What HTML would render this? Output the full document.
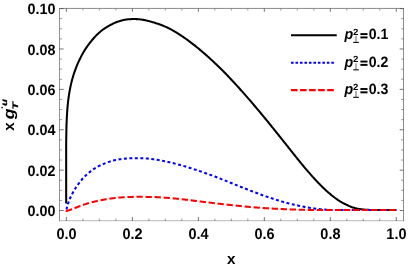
<!DOCTYPE html>
<html><head><meta charset="utf-8"><title>plot</title><style>html,body{margin:0;padding:0;background:#fff}body{width:408px;height:267px;overflow:hidden;font-family:"Liberation Sans",sans-serif}</style></head><body>
<svg width="408" height="267" viewBox="0 0 408 267" style="display:block;text-rendering:geometricPrecision;will-change:transform">
<rect width="408" height="267" fill="#fff"/>
<g fill="none" stroke-linejoin="round">
<polyline points="66.17,203.40 66.17,145.61 66.17,145.28 66.18,144.95 66.18,144.62 66.18,144.29 66.18,143.95 66.19,143.62 66.19,143.28 66.19,142.94 66.20,142.60 66.20,142.26 66.20,141.91 66.21,141.57 66.21,141.22 66.21,140.87 66.22,140.52 66.22,140.16 66.22,139.81 66.23,139.45 66.23,139.09 66.24,138.73 66.24,138.37 66.25,138.01 66.25,137.64 66.26,137.27 66.26,136.90 66.27,136.53 66.27,136.15 66.28,135.78 66.28,135.40 66.29,135.02 66.30,134.64 66.30,134.25 66.31,133.87 66.32,133.48 66.32,133.09 66.33,132.70 66.34,132.30 66.35,131.91 66.36,131.51 66.36,131.11 66.37,130.71 66.38,130.30 66.39,129.90 66.40,129.49 66.41,129.08 66.42,128.66 66.43,128.25 66.44,127.83 66.45,127.41 66.47,126.99 66.48,126.57 66.49,126.14 66.50,125.71 66.52,125.28 66.53,124.85 66.55,124.41 66.56,123.97 66.58,123.53 66.59,123.09 66.61,122.65 66.62,122.20 66.64,121.75 66.66,121.30 66.68,120.84 66.70,120.39 66.72,119.93 66.74,119.46 66.76,119.00 66.78,118.53 66.80,118.06 66.83,117.59 66.85,117.11 66.88,116.64 66.90,116.16 66.93,115.67 66.96,115.19 66.99,114.70 67.01,114.21 67.05,113.71 67.08,113.22 67.11,112.72 67.14,112.22 67.18,111.71 67.21,111.20 67.25,110.69 67.29,110.18 67.33,109.66 67.37,109.14 67.41,108.62 67.45,108.09 67.50,107.56 67.54,107.03 67.59,106.49 67.64,105.95 67.69,105.41 67.75,104.86 67.80,104.32 67.86,103.76 67.91,103.21 67.97,102.65 68.04,102.09 68.10,101.52 68.17,100.95 68.23,100.38 68.30,99.80 68.38,99.22 68.45,98.63 68.53,98.05 68.61,97.45 68.69,96.86 68.78,96.26 68.87,95.66 68.96,95.05 69.05,94.44 69.15,93.82 69.25,93.20 69.35,92.58 69.46,91.95 69.57,91.31 70.24,87.75 70.91,84.62 71.58,81.83 72.25,79.29 72.91,76.95 73.57,74.79 74.23,72.76 74.89,70.86 75.55,69.06 76.21,67.35 76.87,65.72 77.53,64.15 78.18,62.64 78.84,61.19 79.50,59.79 80.15,58.44 80.81,57.13 81.46,55.87 82.12,54.64 82.77,53.46 83.43,52.32 84.08,51.22 84.73,50.15 85.39,49.12 86.04,48.12 86.70,47.15 87.35,46.21 88.01,45.29 88.66,44.39 89.31,43.52 89.97,42.66 90.62,41.83 91.28,41.03 91.93,40.24 92.58,39.47 93.24,38.72 93.89,37.99 94.55,37.27 95.20,36.58 95.85,35.90 96.51,35.23 97.16,34.59 97.81,33.96 98.47,33.34 99.12,32.74 99.78,32.16 100.43,31.59 101.08,31.04 101.74,30.52 102.39,30.02 103.05,29.54 103.70,29.07 104.35,28.62 105.01,28.19 105.66,27.77 106.31,27.36 106.97,26.96 107.62,26.57 108.28,26.18 108.93,25.80 109.58,25.43 110.24,25.08 110.89,24.73 111.55,24.39 112.20,24.06 112.85,23.74 113.51,23.44 114.16,23.14 114.81,22.86 115.47,22.58 116.12,22.32 116.78,22.07 117.43,21.83 118.08,21.59 118.74,21.37 119.39,21.16 120.05,20.96 120.70,20.77 121.35,20.58 122.01,20.41 122.66,20.25 123.31,20.10 123.97,19.96 124.62,19.82 125.28,19.70 125.93,19.60 126.58,19.50 127.24,19.42 127.89,19.34 128.55,19.28 129.20,19.23 129.85,19.19 130.51,19.16 131.16,19.13 131.81,19.10 132.47,19.09 133.12,19.07 133.78,19.06 134.43,19.06 135.08,19.07 135.74,19.08 136.39,19.11 137.05,19.13 137.70,19.17 138.35,19.22 139.01,19.27 139.66,19.33 140.31,19.40 140.97,19.47 141.62,19.56 142.28,19.65 142.93,19.76 143.58,19.87 144.24,19.99 144.89,20.13 145.55,20.27 146.20,20.42 146.85,20.58 147.51,20.75 148.16,20.92 148.81,21.09 149.47,21.27 150.12,21.45 150.78,21.64 151.43,21.82 152.08,22.01 152.74,22.20 153.39,22.39 154.05,22.59 154.70,22.78 155.35,22.99 156.01,23.19 156.66,23.40 157.31,23.62 157.97,23.84 158.62,24.07 159.28,24.30 159.93,24.54 160.58,24.79 161.24,25.04 161.89,25.29 162.55,25.55 163.20,25.81 163.85,26.07 164.51,26.34 165.16,26.61 165.81,26.89 166.47,27.18 167.12,27.48 167.78,27.78 168.43,28.10 169.08,28.42 169.74,28.76 170.39,29.10 171.05,29.45 171.70,29.81 172.35,30.18 173.01,30.55 173.66,30.92 174.31,31.31 174.97,31.70 175.62,32.09 176.28,32.48 176.93,32.89 177.58,33.29 178.24,33.70 178.89,34.12 179.55,34.54 180.20,34.96 180.85,35.39 181.51,35.82 182.16,36.26 182.82,36.70 183.47,37.15 184.12,37.60 184.78,38.05 185.43,38.51 186.08,38.98 186.74,39.45 187.39,39.92 188.05,40.40 188.70,40.88 189.35,41.36 190.01,41.85 190.66,42.34 191.32,42.84 191.97,43.34 192.62,43.85 193.28,44.35 193.93,44.87 194.58,45.38 195.24,45.90 195.89,46.43 196.55,46.95 197.20,47.48 197.85,48.02 198.51,48.55 199.16,49.10 199.82,49.64 200.47,50.19 201.12,50.74 201.78,51.29 202.43,51.85 203.08,52.41 203.74,52.98 204.39,53.55 205.05,54.12 205.70,54.69 206.35,55.27 207.01,55.85 207.66,56.43 208.32,57.02 208.97,57.61 209.62,58.21 210.28,58.80 210.93,59.40 211.58,60.00 212.24,60.61 212.89,61.22 213.55,61.83 214.20,62.44 214.85,63.05 215.51,63.67 216.16,64.28 216.82,64.90 217.47,65.52 218.12,66.15 218.78,66.78 219.43,67.41 220.08,68.04 220.74,68.68 221.39,69.32 222.05,69.97 222.70,70.62 223.35,71.28 224.01,71.95 224.66,72.61 225.32,73.29 225.97,73.97 226.62,74.65 227.28,75.33 227.93,76.01 228.58,76.70 229.24,77.39 229.89,78.08 230.55,78.78 231.20,79.48 231.85,80.18 232.51,80.88 233.16,81.58 233.82,82.29 234.47,83.00 235.12,83.71 235.78,84.42 236.43,85.14 237.08,85.85 237.74,86.57 238.39,87.29 239.05,88.02 239.70,88.74 240.35,89.47 241.01,90.20 241.66,90.93 242.32,91.67 242.97,92.40 243.62,93.14 244.28,93.88 244.93,94.62 245.58,95.37 246.24,96.11 246.89,96.86 247.55,97.61 248.20,98.36 248.85,99.12 249.51,99.87 250.16,100.63 250.82,101.39 251.47,102.15 252.12,102.91 252.78,103.68 253.43,104.45 254.08,105.21 254.74,105.98 255.39,106.75 256.05,107.53 256.70,108.30 257.35,109.08 258.01,109.86 258.66,110.64 259.32,111.42 259.97,112.20 260.62,112.99 261.28,113.77 261.93,114.56 262.58,115.35 263.24,116.14 263.89,116.93 264.55,117.73 265.20,118.52 265.85,119.32 266.51,120.12 267.16,120.92 267.82,121.72 268.47,122.52 269.12,123.32 269.78,124.13 270.43,124.93 271.08,125.74 271.74,126.55 272.39,127.35 273.05,128.16 273.70,128.98 274.35,129.79 275.01,130.60 275.66,131.42 276.32,132.23 276.97,133.05 277.62,133.86 278.28,134.68 278.93,135.50 279.58,136.32 280.24,137.14 280.89,137.96 281.55,138.78 282.20,139.60 282.85,140.42 283.51,141.24 284.16,142.07 284.82,142.89 285.47,143.71 286.12,144.54 286.78,145.36 287.43,146.19 288.08,147.01 288.74,147.83 289.39,148.66 290.05,149.48 290.70,150.30 291.35,151.13 292.01,151.95 292.66,152.77 293.32,153.59 293.97,154.42 294.62,155.24 295.28,156.06 295.93,156.87 296.58,157.69 297.24,158.51 297.89,159.32 298.55,160.14 299.20,160.95 299.85,161.76 300.51,162.57 301.16,163.38 301.82,164.17 302.47,164.97 303.12,165.76 303.78,166.54 304.43,167.32 305.08,168.10 305.74,168.87 306.39,169.64 307.05,170.40 307.70,171.16 308.35,171.91 309.01,172.67 309.66,173.41 310.32,174.15 310.97,174.89 311.62,175.63 312.28,176.36 312.93,177.08 313.59,177.80 314.24,178.52 314.89,179.24 315.55,179.95 316.20,180.65 316.85,181.34 317.51,182.03 318.16,182.71 318.82,183.38 319.47,184.05 320.12,184.71 320.78,185.37 321.43,186.01 322.09,186.66 322.74,187.29 323.39,187.92 324.05,188.55 324.70,189.17 325.35,189.78 326.01,190.39 326.66,190.99 327.32,191.57 327.97,192.15 328.62,192.72 329.28,193.29 329.93,193.84 330.59,194.39 331.24,194.92 331.89,195.46 332.55,195.98 333.20,196.49 333.85,197.00 334.51,197.50 335.16,198.00 335.82,198.48 336.47,198.96 337.12,199.42 337.78,199.87 338.43,200.31 339.09,200.74 339.74,201.15 340.39,201.56 341.05,201.95 341.70,202.33 342.35,202.69 343.01,203.05 343.66,203.39 344.32,203.72 344.97,204.03 345.62,204.34 346.28,204.65 346.93,204.96 347.59,205.26 348.24,205.56 348.89,205.86 349.55,206.14 350.20,206.42 350.85,206.69 351.51,206.94 352.16,207.19 352.82,207.42 353.47,207.64 354.12,207.84 354.78,208.03 355.43,208.20 356.09,208.35 356.74,208.50 357.39,208.64 358.05,208.77 358.70,208.90 359.35,209.01 360.01,209.11 360.66,209.21 361.32,209.30 361.97,209.38 362.62,209.46 363.28,209.52 363.93,209.58 364.59,209.64 365.24,209.69 365.89,209.74 366.55,209.78 367.20,209.82 367.85,209.86 368.51,209.89 369.16,209.92 369.82,209.95 370.47,209.97 371.12,209.98 371.78,209.99 372.43,209.99 373.09,210.00 373.74,210.00 374.39,210.00 375.05,210.00 375.70,210.00 376.35,210.00 377.01,210.00 377.66,210.00 378.32,210.00 378.97,210.00 379.62,210.00 380.28,210.00 380.93,210.00 381.59,210.00 382.24,210.00 382.89,210.00 383.55,210.00 384.20,210.00 384.85,210.00 385.51,210.00 386.16,210.00 386.82,210.00 387.47,210.00 388.12,210.00 388.78,210.00 389.43,210.00 390.09,210.00 390.74,210.00 391.39,210.00 392.05,210.00 392.70,210.00 393.35,210.00 394.01,210.00 394.66,210.00 395.32,210.00 395.97,210.00 396.30,210.00" stroke="#000" stroke-width="2.05"/>
<polyline points="66.73,209.60 66.73,208.33 66.74,208.30 66.74,208.27 66.75,208.24 66.76,208.21 66.76,208.18 66.77,208.15 66.78,208.12 66.79,208.08 66.79,208.05 66.80,208.01 66.81,207.98 66.82,207.94 66.82,207.91 66.83,207.87 66.84,207.84 66.85,207.80 66.86,207.76 66.87,207.72 66.88,207.68 66.89,207.64 66.90,207.60 66.90,207.56 66.91,207.52 66.92,207.48 66.94,207.44 66.95,207.40 66.96,207.35 66.97,207.31 66.98,207.26 66.99,207.22 67.00,207.17 67.01,207.13 67.02,207.08 67.04,207.03 67.05,206.98 67.06,206.93 67.08,206.88 67.09,206.83 67.10,206.78 67.12,206.73 67.13,206.68 67.14,206.62 67.16,206.57 67.17,206.51 67.19,206.46 67.20,206.40 67.22,206.34 67.24,206.28 67.25,206.22 67.27,206.16 67.29,206.10 67.30,206.04 67.32,205.98 67.34,205.92 67.36,205.85 67.37,205.79 67.39,205.72 67.41,205.65 67.43,205.58 67.45,205.52 67.47,205.45 67.49,205.37 67.52,205.30 67.54,205.23 67.56,205.16 67.58,205.08 67.61,205.00 67.63,204.93 67.65,204.85 67.68,204.77 67.70,204.69 67.73,204.61 67.75,204.53 67.78,204.44 67.81,204.36 67.84,204.27 67.86,204.18 67.89,204.10 67.92,204.01 67.95,203.92 67.98,203.82 68.01,203.73 68.04,203.64 68.08,203.54 68.11,203.44 68.14,203.34 68.18,203.24 68.21,203.14 68.25,203.04 68.28,202.94 68.32,202.83 68.36,202.72 68.39,202.62 68.43,202.51 68.47,202.40 68.51,202.28 68.56,202.17 68.60,202.05 68.64,201.94 68.68,201.82 68.73,201.70 68.77,201.58 68.82,201.45 68.87,201.33 68.92,201.20 68.97,201.07 69.02,200.94 69.07,200.81 69.12,200.68 69.17,200.54 69.23,200.40 69.28,200.26 69.34,200.12 69.39,199.98 69.45,199.84 69.51,199.69 69.57,199.54 69.64,199.39 69.70,199.24 70.35,197.72 71.01,196.29 71.66,194.94 72.31,193.65 72.97,192.43 73.62,191.25 74.28,190.13 74.93,189.05 75.58,188.01 76.24,187.02 76.89,186.07 77.55,185.15 78.20,184.25 78.85,183.37 79.51,182.49 80.16,181.65 80.81,180.83 81.47,180.04 82.12,179.28 82.78,178.54 83.43,177.83 84.08,177.14 84.74,176.47 85.39,175.82 86.05,175.20 86.70,174.59 87.35,174.00 88.01,173.43 88.66,172.88 89.31,172.34 89.97,171.82 90.62,171.31 91.28,170.81 91.93,170.33 92.58,169.86 93.24,169.41 93.89,168.97 94.55,168.54 95.20,168.13 95.85,167.73 96.51,167.34 97.16,166.97 97.81,166.61 98.47,166.26 99.12,165.93 99.78,165.60 100.43,165.29 101.08,164.98 101.74,164.69 102.39,164.40 103.05,164.12 103.70,163.85 104.35,163.59 105.01,163.34 105.66,163.08 106.31,162.83 106.97,162.59 107.62,162.34 108.28,162.10 108.93,161.87 109.58,161.64 110.24,161.42 110.89,161.21 111.55,161.01 112.20,160.81 112.85,160.63 113.51,160.47 114.16,160.31 114.81,160.17 115.47,160.03 116.12,159.90 116.78,159.78 117.43,159.66 118.08,159.55 118.74,159.44 119.39,159.34 120.05,159.25 120.70,159.16 121.35,159.07 122.01,158.99 122.66,158.91 123.31,158.84 123.97,158.77 124.62,158.70 125.28,158.63 125.93,158.57 126.58,158.52 127.24,158.46 127.89,158.41 128.55,158.37 129.20,158.33 129.85,158.29 130.51,158.26 131.16,158.24 131.81,158.21 132.47,158.19 133.12,158.18 133.78,158.17 134.43,158.16 135.08,158.16 135.74,158.16 136.39,158.16 137.05,158.16 137.70,158.17 138.35,158.19 139.01,158.20 139.66,158.22 140.31,158.24 140.97,158.26 141.62,158.28 142.28,158.30 142.93,158.32 143.58,158.35 144.24,158.38 144.89,158.41 145.55,158.44 146.20,158.48 146.85,158.53 147.51,158.58 148.16,158.63 148.81,158.69 149.47,158.76 150.12,158.84 150.78,158.92 151.43,159.00 152.08,159.08 152.74,159.17 153.39,159.26 154.05,159.35 154.70,159.45 155.35,159.55 156.01,159.65 156.66,159.75 157.31,159.85 157.97,159.96 158.62,160.07 159.28,160.19 159.93,160.30 160.58,160.42 161.24,160.54 161.89,160.66 162.55,160.79 163.20,160.92 163.85,161.05 164.51,161.18 165.16,161.31 165.81,161.45 166.47,161.59 167.12,161.73 167.78,161.88 168.43,162.03 169.08,162.18 169.74,162.33 170.39,162.48 171.05,162.64 171.70,162.80 172.35,162.96 173.01,163.12 173.66,163.28 174.31,163.45 174.97,163.62 175.62,163.79 176.28,163.96 176.93,164.13 177.58,164.31 178.24,164.48 178.89,164.66 179.55,164.84 180.20,165.02 180.85,165.21 181.51,165.39 182.16,165.58 182.82,165.76 183.47,165.95 184.12,166.14 184.78,166.33 185.43,166.53 186.08,166.72 186.74,166.92 187.39,167.12 188.05,167.32 188.70,167.52 189.35,167.73 190.01,167.93 190.66,168.14 191.32,168.34 191.97,168.55 192.62,168.76 193.28,168.97 193.93,169.19 194.58,169.40 195.24,169.61 195.89,169.83 196.55,170.05 197.20,170.27 197.85,170.48 198.51,170.70 199.16,170.92 199.82,171.15 200.47,171.37 201.12,171.59 201.78,171.82 202.43,172.04 203.08,172.27 203.74,172.50 204.39,172.73 205.05,172.96 205.70,173.19 206.35,173.43 207.01,173.66 207.66,173.90 208.32,174.13 208.97,174.37 209.62,174.61 210.28,174.85 210.93,175.09 211.58,175.33 212.24,175.58 212.89,175.82 213.55,176.07 214.20,176.31 214.85,176.56 215.51,176.81 216.16,177.06 216.82,177.31 217.47,177.56 218.12,177.81 218.78,178.07 219.43,178.32 220.08,178.57 220.74,178.83 221.39,179.09 222.05,179.34 222.70,179.60 223.35,179.86 224.01,180.12 224.66,180.38 225.32,180.64 225.97,180.90 226.62,181.16 227.28,181.42 227.93,181.68 228.58,181.95 229.24,182.21 229.89,182.47 230.55,182.74 231.20,183.00 231.85,183.27 232.51,183.53 233.16,183.79 233.82,184.06 234.47,184.32 235.12,184.58 235.78,184.85 236.43,185.11 237.08,185.37 237.74,185.63 238.39,185.90 239.05,186.16 239.70,186.42 240.35,186.68 241.01,186.94 241.66,187.21 242.32,187.47 242.97,187.73 243.62,187.99 244.28,188.25 244.93,188.51 245.58,188.77 246.24,189.03 246.89,189.29 247.55,189.55 248.20,189.81 248.85,190.06 249.51,190.32 250.16,190.57 250.82,190.83 251.47,191.08 252.12,191.33 252.78,191.59 253.43,191.84 254.08,192.09 254.74,192.34 255.39,192.58 256.05,192.83 256.70,193.08 257.35,193.32 258.01,193.57 258.66,193.81 259.32,194.05 259.97,194.29 260.62,194.53 261.28,194.77 261.93,195.01 262.58,195.24 263.24,195.47 263.89,195.70 264.55,195.93 265.20,196.15 265.85,196.38 266.51,196.60 267.16,196.82 267.82,197.04 268.47,197.26 269.12,197.47 269.78,197.69 270.43,197.90 271.08,198.12 271.74,198.33 272.39,198.54 273.05,198.75 273.70,198.96 274.35,199.17 275.01,199.38 275.66,199.59 276.32,199.80 276.97,200.01 277.62,200.22 278.28,200.42 278.93,200.63 279.58,200.83 280.24,201.03 280.89,201.22 281.55,201.42 282.20,201.61 282.85,201.80 283.51,201.99 284.16,202.17 284.82,202.35 285.47,202.53 286.12,202.71 286.78,202.89 287.43,203.06 288.08,203.23 288.74,203.40 289.39,203.56 290.05,203.73 290.70,203.89 291.35,204.05 292.01,204.20 292.66,204.36 293.32,204.51 293.97,204.65 294.62,204.80 295.28,204.94 295.93,205.08 296.58,205.23 297.24,205.37 297.89,205.51 298.55,205.65 299.20,205.79 299.85,205.93 300.51,206.07 301.16,206.21 301.82,206.35 302.47,206.48 303.12,206.62 303.78,206.75 304.43,206.88 305.08,207.00 305.74,207.13 306.39,207.25 307.05,207.37 307.70,207.49 308.35,207.60 309.01,207.71 309.66,207.82 310.32,207.92 310.97,208.02 311.62,208.12 312.28,208.21 312.93,208.30 313.59,208.39 314.24,208.48 314.89,208.57 315.55,208.65 316.20,208.73 316.85,208.81 317.51,208.89 318.16,208.97 318.82,209.04 319.47,209.11 320.12,209.18 320.78,209.25 321.43,209.31 322.09,209.37 322.74,209.43 323.39,209.49 324.05,209.54 324.70,209.59 325.35,209.64 326.01,209.68 326.66,209.73 327.32,209.76 327.97,209.80 328.62,209.83 329.28,209.86 329.93,209.89 330.59,209.91 331.24,209.94 331.89,209.96 332.55,209.99 333.20,210.00 333.85,210.00 334.51,210.00 335.16,210.00 335.82,210.00 336.47,210.00 337.12,210.00 337.78,210.00 338.43,210.00 339.09,210.00 339.74,210.00 340.39,210.00 341.05,210.00 341.70,210.00 342.35,210.00 343.01,210.00 343.66,210.00 344.32,210.00 344.97,210.00 345.62,210.00 346.28,210.00 346.93,210.00 347.59,210.00 348.24,210.00 348.89,210.00 349.55,210.00 350.20,210.00 350.85,210.00 351.51,210.00 352.16,210.00 352.82,210.00 353.47,210.00 354.12,210.00 354.78,210.00 355.43,210.00 356.09,210.00 356.74,210.00 357.39,210.00 358.05,210.00 358.70,210.00 359.35,210.00 360.01,210.00 360.66,210.00 361.32,210.00 361.97,210.00 362.62,210.00 363.28,210.00 363.93,210.00 364.59,210.00 365.24,210.00 365.89,210.00 366.55,210.00 367.20,210.00 367.85,210.00 368.51,210.00 369.16,210.00 369.82,210.00 370.47,210.00 371.12,210.00 371.78,210.00 372.43,210.00 373.09,210.00 373.74,210.00 374.39,210.00 375.05,210.00 375.70,210.00 376.35,210.00 377.01,210.00 377.66,210.00 378.32,210.00 378.97,210.00 379.62,210.00 380.28,210.00 380.93,210.00 381.59,210.00 382.24,210.00 382.89,210.00 383.55,210.00 384.20,210.00 384.85,210.00 385.51,210.00 386.16,210.00 386.82,210.00 387.47,210.00 388.12,210.00 388.78,210.00 389.43,210.00 390.09,210.00 390.74,210.00 391.39,210.00 392.05,210.00 392.70,210.00 393.35,210.00 394.01,210.00 394.66,210.00 395.32,210.00 395.97,210.00 396.30,210.00" stroke="#0000ff" stroke-width="2.05" stroke-dasharray="2.95 2.53"/>
<polyline points="66.43,210.50 66.43,210.91 66.43,210.91 66.44,210.91 66.44,210.91 66.44,210.91 66.44,210.91 66.44,210.91 66.44,210.91 66.44,210.91 66.45,210.91 66.45,210.91 66.45,210.91 66.45,210.91 66.45,210.91 66.46,210.91 66.46,210.91 66.46,210.91 66.46,210.91 66.47,210.91 66.47,210.91 66.47,210.91 66.47,210.91 66.48,210.91 66.48,210.91 66.48,210.91 66.49,210.91 66.49,210.91 66.49,210.91 66.50,210.91 66.50,210.91 66.51,210.91 66.51,210.91 66.51,210.91 66.52,210.91 66.52,210.91 66.53,210.91 66.53,210.91 66.54,210.90 66.54,210.90 66.55,210.90 66.56,210.90 66.56,210.90 66.57,210.90 66.57,210.90 66.58,210.90 66.59,210.90 66.60,210.90 66.60,210.90 66.61,210.89 66.62,210.89 66.63,210.89 66.64,210.89 66.65,210.89 66.66,210.89 66.67,210.89 66.68,210.88 66.69,210.88 66.70,210.88 66.71,210.88 66.72,210.88 66.74,210.88 66.75,210.87 66.76,210.87 66.78,210.87 66.79,210.87 66.81,210.86 66.82,210.86 66.84,210.86 66.86,210.85 66.88,210.85 66.90,210.85 66.91,210.84 66.94,210.84 66.96,210.83 66.98,210.83 67.00,210.82 67.02,210.82 67.05,210.81 67.08,210.81 67.10,210.80 67.13,210.80 67.16,210.79 67.19,210.78 67.22,210.78 67.25,210.77 67.29,210.76 67.32,210.75 67.36,210.74 67.39,210.73 67.43,210.72 67.47,210.71 67.52,210.70 67.56,210.69 67.61,210.68 67.65,210.66 67.70,210.65 67.75,210.64 67.81,210.62 67.86,210.61 67.92,210.59 67.98,210.57 68.04,210.55 68.11,210.53 68.18,210.51 68.25,210.49 68.32,210.47 68.39,210.45 68.47,210.42 68.56,210.39 68.64,210.37 68.73,210.34 68.82,210.31 68.92,210.28 69.02,210.24 69.12,210.21 69.23,210.17 69.34,210.13 69.45,210.09 69.57,210.05 69.70,210.00 70.35,209.76 71.01,209.51 71.66,209.26 72.31,209.00 72.97,208.75 73.62,208.49 74.28,208.23 74.93,207.97 75.58,207.71 76.24,207.45 76.89,207.20 77.55,206.95 78.20,206.69 78.85,206.44 79.51,206.20 80.16,205.96 80.81,205.72 81.47,205.48 82.12,205.25 82.78,205.02 83.43,204.79 84.08,204.57 84.74,204.36 85.39,204.14 86.05,203.94 86.70,203.73 87.35,203.53 88.01,203.33 88.66,203.14 89.31,202.95 89.97,202.77 90.62,202.59 91.28,202.41 91.93,202.24 92.58,202.07 93.24,201.91 93.89,201.75 94.55,201.59 95.20,201.44 95.85,201.29 96.51,201.14 97.16,201.00 97.81,200.85 98.47,200.71 99.12,200.57 99.78,200.44 100.43,200.30 101.08,200.17 101.74,200.04 102.39,199.91 103.05,199.79 103.70,199.66 104.35,199.54 105.01,199.42 105.66,199.31 106.31,199.20 106.97,199.09 107.62,198.98 108.28,198.87 108.93,198.77 109.58,198.67 110.24,198.58 110.89,198.49 111.55,198.40 112.20,198.31 112.85,198.23 113.51,198.16 114.16,198.08 114.81,198.01 115.47,197.94 116.12,197.87 116.78,197.81 117.43,197.74 118.08,197.68 118.74,197.62 119.39,197.57 120.05,197.51 120.70,197.46 121.35,197.41 122.01,197.37 122.66,197.32 123.31,197.28 123.97,197.24 124.62,197.20 125.28,197.16 125.93,197.13 126.58,197.09 127.24,197.06 127.89,197.03 128.55,197.01 129.20,196.98 129.85,196.96 130.51,196.94 131.16,196.92 131.81,196.90 132.47,196.88 133.12,196.87 133.78,196.86 134.43,196.85 135.08,196.84 135.74,196.83 136.39,196.82 137.05,196.82 137.70,196.82 138.35,196.82 139.01,196.82 139.66,196.82 140.31,196.82 140.97,196.82 141.62,196.83 142.28,196.83 142.93,196.84 143.58,196.85 144.24,196.86 144.89,196.87 145.55,196.88 146.20,196.89 146.85,196.90 147.51,196.90 148.16,196.91 148.81,196.93 149.47,196.94 150.12,196.95 150.78,196.96 151.43,196.97 152.08,196.99 152.74,197.01 153.39,197.02 154.05,197.04 154.70,197.06 155.35,197.09 156.01,197.11 156.66,197.14 157.31,197.17 157.97,197.20 158.62,197.24 159.28,197.28 159.93,197.32 160.58,197.36 161.24,197.41 161.89,197.46 162.55,197.50 163.20,197.55 163.85,197.60 164.51,197.65 165.16,197.70 165.81,197.75 166.47,197.80 167.12,197.85 167.78,197.90 168.43,197.96 169.08,198.01 169.74,198.07 170.39,198.12 171.05,198.18 171.70,198.24 172.35,198.29 173.01,198.35 173.66,198.41 174.31,198.47 174.97,198.53 175.62,198.59 176.28,198.65 176.93,198.71 177.58,198.77 178.24,198.84 178.89,198.90 179.55,198.97 180.20,199.03 180.85,199.10 181.51,199.17 182.16,199.25 182.82,199.32 183.47,199.40 184.12,199.47 184.78,199.55 185.43,199.63 186.08,199.71 186.74,199.79 187.39,199.87 188.05,199.95 188.70,200.03 189.35,200.11 190.01,200.20 190.66,200.28 191.32,200.36 191.97,200.45 192.62,200.53 193.28,200.61 193.93,200.70 194.58,200.78 195.24,200.86 195.89,200.95 196.55,201.03 197.20,201.11 197.85,201.19 198.51,201.27 199.16,201.35 199.82,201.43 200.47,201.51 201.12,201.58 201.78,201.66 202.43,201.74 203.08,201.82 203.74,201.90 204.39,201.98 205.05,202.05 205.70,202.13 206.35,202.21 207.01,202.29 207.66,202.37 208.32,202.45 208.97,202.53 209.62,202.60 210.28,202.68 210.93,202.76 211.58,202.84 212.24,202.92 212.89,203.00 213.55,203.07 214.20,203.15 214.85,203.23 215.51,203.31 216.16,203.38 216.82,203.46 217.47,203.54 218.12,203.61 218.78,203.69 219.43,203.77 220.08,203.84 220.74,203.92 221.39,203.99 222.05,204.07 222.70,204.15 223.35,204.22 224.01,204.29 224.66,204.37 225.32,204.44 225.97,204.52 226.62,204.59 227.28,204.66 227.93,204.73 228.58,204.81 229.24,204.88 229.89,204.95 230.55,205.02 231.20,205.09 231.85,205.16 232.51,205.23 233.16,205.30 233.82,205.37 234.47,205.44 235.12,205.51 235.78,205.57 236.43,205.64 237.08,205.71 237.74,205.78 238.39,205.84 239.05,205.91 239.70,205.97 240.35,206.04 241.01,206.10 241.66,206.17 242.32,206.23 242.97,206.30 243.62,206.36 244.28,206.42 244.93,206.48 245.58,206.55 246.24,206.61 246.89,206.67 247.55,206.73 248.20,206.79 248.85,206.85 249.51,206.91 250.16,206.97 250.82,207.02 251.47,207.08 252.12,207.14 252.78,207.19 253.43,207.25 254.08,207.30 254.74,207.36 255.39,207.41 256.05,207.47 256.70,207.52 257.35,207.57 258.01,207.62 258.66,207.68 259.32,207.73 259.97,207.78 260.62,207.83 261.28,207.88 261.93,207.92 262.58,207.97 263.24,208.02 263.89,208.06 264.55,208.11 265.20,208.15 265.85,208.20 266.51,208.24 267.16,208.28 267.82,208.33 268.47,208.37 269.12,208.41 269.78,208.45 270.43,208.49 271.08,208.52 271.74,208.56 272.39,208.60 273.05,208.64 273.70,208.67 274.35,208.71 275.01,208.74 275.66,208.78 276.32,208.81 276.97,208.84 277.62,208.88 278.28,208.91 278.93,208.94 279.58,208.97 280.24,209.00 280.89,209.03 281.55,209.06 282.20,209.09 282.85,209.11 283.51,209.14 284.16,209.17 284.82,209.19 285.47,209.22 286.12,209.24 286.78,209.27 287.43,209.29 288.08,209.32 288.74,209.34 289.39,209.36 290.05,209.39 290.70,209.41 291.35,209.43 292.01,209.45 292.66,209.47 293.32,209.49 293.97,209.51 294.62,209.53 295.28,209.55 295.93,209.57 296.58,209.59 297.24,209.61 297.89,209.63 298.55,209.65 299.20,209.66 299.85,209.68 300.51,209.70 301.16,209.71 301.82,209.73 302.47,209.75 303.12,209.76 303.78,209.78 304.43,209.79 305.08,209.81 305.74,209.82 306.39,209.83 307.05,209.85 307.70,209.86 308.35,209.87 309.01,209.88 309.66,209.90 310.32,209.91 310.97,209.92 311.62,209.93 312.28,209.94 312.93,209.95 313.59,209.96 314.24,209.97 314.89,209.98 315.55,209.99 316.20,210.00 316.85,210.00 317.51,210.00 318.16,210.00 318.82,210.00 319.47,210.00 320.12,210.00 320.78,210.00 321.43,210.00 322.09,210.00 322.74,210.00 323.39,210.00 324.05,210.00 324.70,210.00 325.35,210.00 326.01,210.00 326.66,210.00 327.32,210.00 327.97,210.00 328.62,210.00 329.28,210.00 329.93,210.00 330.59,210.00 331.24,210.00 331.89,210.00 332.55,210.00 333.20,210.00 333.85,210.00 334.51,210.00 335.16,210.00 335.82,210.00 336.47,210.00 337.12,210.00 337.78,210.00 338.43,210.00 339.09,210.00 339.74,210.00 340.39,210.00 341.05,210.00 341.70,210.00 342.35,210.00 343.01,210.00 343.66,210.00 344.32,210.00 344.97,210.00 345.62,210.00 346.28,210.00 346.93,210.00 347.59,210.00 348.24,210.00 348.89,210.00 349.55,210.00 350.20,210.00 350.85,210.00 351.51,210.00 352.16,210.00 352.82,210.00 353.47,210.00 354.12,210.00 354.78,210.00 355.43,210.00 356.09,210.00 356.74,210.00 357.39,210.00 358.05,210.00 358.70,210.00 359.35,210.00 360.01,210.00 360.66,210.00 361.32,210.00 361.97,210.00 362.62,210.00 363.28,210.00 363.93,210.00 364.59,210.00 365.24,210.00 365.89,210.00 366.55,210.00 367.20,210.00 367.85,210.00 368.51,210.00 369.16,210.00 369.82,210.00 370.47,210.00 371.12,210.00 371.78,210.00 372.43,210.00 373.09,210.00 373.74,210.00 374.39,210.00 375.05,210.00 375.70,210.00 376.35,210.00 377.01,210.00 377.66,210.00 378.32,210.00 378.97,210.00 379.62,210.00 380.28,210.00 380.93,210.00 381.59,210.00 382.24,210.00 382.89,210.00 383.55,210.00 384.20,210.00 384.85,210.00 385.51,210.00 386.16,210.00 386.82,210.00 387.47,210.00 388.12,210.00 388.78,210.00 389.43,210.00 390.09,210.00 390.74,210.00 391.39,210.00 392.05,210.00 392.70,210.00 393.35,210.00 394.01,210.00 394.66,210.00 395.32,210.00 395.97,210.00 396.30,210.00" stroke="#ff0000" stroke-width="2.05" stroke-dasharray="6.3 2.75"/>
</g>
<g fill="none">
<path d="M59.1,220.6H403.85" stroke="#c6c6c6" stroke-width="1.4"/>
<path d="M59.1,8.45H403.85" stroke="#666" stroke-width="0.75"/>
<path d="M59.5,8.1V221.2" stroke="#606060" stroke-width="0.68"/>
<path d="M403.5,8.1V221.2" stroke="#666" stroke-width="0.75"/>
<path d="M66.40,221v-4M66.40,8.5v3.3M132.38,221v-4M132.38,8.5v3.3M198.36,221v-4M198.36,8.5v3.3M264.34,221v-4M264.34,8.5v3.3M330.32,221v-4M330.32,8.5v3.3M396.30,221v-4M396.30,8.5v3.3M59.5,210.50h4.2M403.5,210.50h-3.8M59.5,170.12h4.2M403.5,170.12h-3.8M59.5,129.74h4.2M403.5,129.74h-3.8M59.5,89.36h4.2M403.5,89.36h-3.8M59.5,48.98h4.2M403.5,48.98h-3.8M59.5,8.60h4.2M403.5,8.60h-3.8" stroke="#505050" stroke-width="0.78"/>
<path d="M82.90,221v-2.5M82.90,8.5v2.1M99.39,221v-2.5M99.39,8.5v2.1M115.89,221v-2.5M115.89,8.5v2.1M148.88,221v-2.5M148.88,8.5v2.1M165.37,221v-2.5M165.37,8.5v2.1M181.87,221v-2.5M181.87,8.5v2.1M214.85,221v-2.5M214.85,8.5v2.1M231.35,221v-2.5M231.35,8.5v2.1M247.84,221v-2.5M247.84,8.5v2.1M280.84,221v-2.5M280.84,8.5v2.1M297.33,221v-2.5M297.33,8.5v2.1M313.82,221v-2.5M313.82,8.5v2.1M346.82,221v-2.5M346.82,8.5v2.1M363.31,221v-2.5M363.31,8.5v2.1M379.80,221v-2.5M379.80,8.5v2.1M59.5,200.41h2.6M403.5,200.41h-2.4M59.5,190.31h2.6M403.5,190.31h-2.4M59.5,180.22h2.6M403.5,180.22h-2.4M59.5,160.03h2.6M403.5,160.03h-2.4M59.5,149.93h2.6M403.5,149.93h-2.4M59.5,139.83h2.6M403.5,139.83h-2.4M59.5,119.65h2.6M403.5,119.65h-2.4M59.5,109.55h2.6M403.5,109.55h-2.4M59.5,99.46h2.6M403.5,99.46h-2.4M59.5,79.27h2.6M403.5,79.27h-2.4M59.5,69.17h2.6M403.5,69.17h-2.4M59.5,59.08h2.6M403.5,59.08h-2.4M59.5,38.89h2.6M403.5,38.89h-2.4M59.5,28.79h2.6M403.5,28.79h-2.4M59.5,18.69h2.6M403.5,18.69h-2.4" stroke="#707070" stroke-width="0.68"/>
</g>
<g font-family="Liberation Sans, sans-serif" font-weight="bold" font-size="14.2px" fill="#000">
<text transform="translate(66.50,238.95) scale(1.02,1.075)" text-anchor="middle">0.0</text>
<text transform="translate(132.48,238.95) scale(1.02,1.075)" text-anchor="middle">0.2</text>
<text transform="translate(198.46,238.95) scale(1.02,1.075)" text-anchor="middle">0.4</text>
<text transform="translate(264.44,238.95) scale(1.02,1.075)" text-anchor="middle">0.6</text>
<text transform="translate(330.42,238.95) scale(1.02,1.075)" text-anchor="middle">0.8</text>
<text transform="translate(396.40,238.95) scale(1.02,1.075)" text-anchor="middle">1.0</text>
<text transform="translate(55.4,216.05) scale(1.01,1.06)" text-anchor="end">0.00</text>
<text transform="translate(55.4,175.67) scale(1.01,1.06)" text-anchor="end">0.02</text>
<text transform="translate(55.4,135.29) scale(1.01,1.06)" text-anchor="end">0.04</text>
<text transform="translate(55.4,94.91) scale(1.01,1.06)" text-anchor="end">0.06</text>
<text transform="translate(55.4,54.53) scale(1.01,1.06)" text-anchor="end">0.08</text>
<text transform="translate(55.4,14.15) scale(1.01,1.06)" text-anchor="end">0.10</text>
<text x="231.2" y="264.0" text-anchor="middle" font-size="15.2px">x</text>
<g transform="translate(14.2,130.4) rotate(-90)">
<text x="-0.25" y="0" font-size="15.2px">x</text>
<text transform="translate(11.25,0.1) scale(1.15,1)" font-size="15.2px" font-style="italic">g</text>
<text transform="translate(20.8,3.7) scale(1.5,1)" font-size="8.0px" font-style="italic" stroke="#000" stroke-width="0.25">T</text>
<text transform="translate(24.5,-7.6) scale(1.4,1)" font-size="8.2px" font-style="italic" stroke="#000" stroke-width="0.25">u</text>
<rect x="22.2" y="-12.8" width="1.3" height="1.5" fill="#000"/>
</g>
<line x1="291" y1="35.20" x2="336.7" y2="35.20" stroke="#000" stroke-width="2.05"/>
<text transform="translate(344.4,39.45) scale(1.0,1.05)" font-size="14.2px" font-style="italic">p</text>
<text transform="translate(352.9,34.95) scale(1.0,0.92)" font-size="9.6px">2</text>
<path d="M353.2,42.40h5.7" stroke="#000" stroke-width="1.05" fill="none"/><path d="M356.0,42.40V35.85" stroke="#000" stroke-width="0.6" fill="none"/>
<rect x="360.4" y="33.15" width="7.1" height="1.9"/><rect x="360.4" y="36.45" width="7.1" height="1.95"/>
<text transform="translate(368.7,39.45) scale(1.0,1.06)" font-size="14.1px">0.1</text>
<line x1="291" y1="62.65" x2="334.2" y2="62.65" stroke="#0000ff" stroke-width="2.05" stroke-dasharray="2.6 1.88"/>
<text transform="translate(344.4,66.90) scale(1.0,1.05)" font-size="14.2px" font-style="italic">p</text>
<text transform="translate(352.9,62.40) scale(1.0,0.92)" font-size="9.6px">2</text>
<path d="M353.2,69.85h5.7" stroke="#000" stroke-width="1.05" fill="none"/><path d="M356.0,69.85V63.30" stroke="#000" stroke-width="0.6" fill="none"/>
<rect x="360.4" y="60.60" width="7.1" height="1.9"/><rect x="360.4" y="63.90" width="7.1" height="1.95"/>
<text transform="translate(368.7,66.90) scale(1.0,1.06)" font-size="14.1px">0.2</text>
<line x1="291" y1="90.10" x2="334.2" y2="90.10" stroke="#ff0000" stroke-width="2.05" stroke-dasharray="6.6 2.45"/>
<text transform="translate(344.4,94.35) scale(1.0,1.05)" font-size="14.2px" font-style="italic">p</text>
<text transform="translate(352.9,89.85) scale(1.0,0.92)" font-size="9.6px">2</text>
<path d="M353.2,97.30h5.7" stroke="#000" stroke-width="1.05" fill="none"/><path d="M356.0,97.30V90.75" stroke="#000" stroke-width="0.6" fill="none"/>
<rect x="360.4" y="88.05" width="7.1" height="1.9"/><rect x="360.4" y="91.35" width="7.1" height="1.95"/>
<text transform="translate(368.7,94.35) scale(1.0,1.06)" font-size="14.1px">0.3</text>
</g>
</svg>
</body></html>
